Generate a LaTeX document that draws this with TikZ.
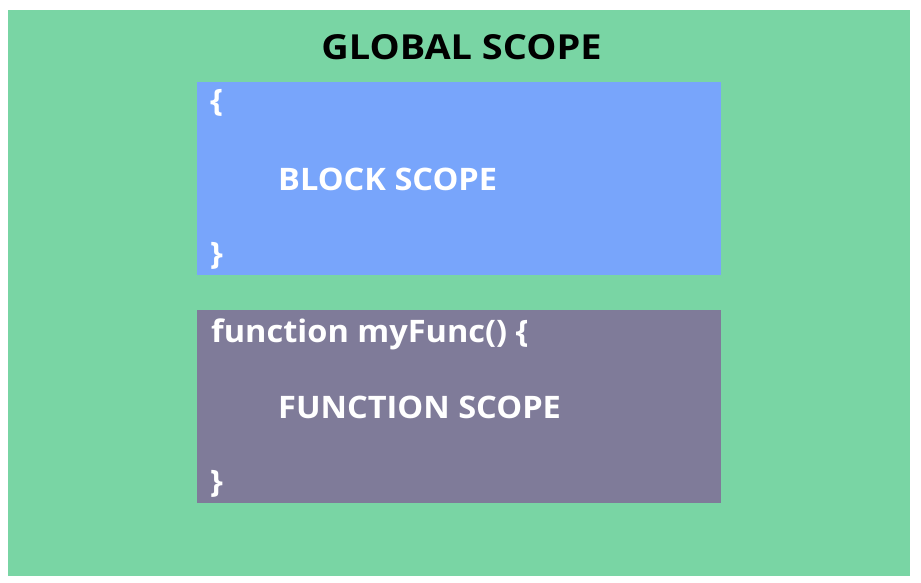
\documentclass[tikz,border=0pt]{standalone}
\usepackage{fontspec}
\setmainfont{Open Sans}
\newfontfamily\labelfont{Open Sans}[FakeStretch=1.05]
\newfontfamily\titlefont{Open Sans}[FakeStretch=1.1]
\definecolor{gscope}{HTML}{79D5A4}
\definecolor{bscope}{HTML}{78A5FB}
\definecolor{fscope}{HTML}{7F7B99}
\begin{document}
\begin{tikzpicture}[x=1pt,y=-1pt,
  lbl/.style={inner sep=0pt,anchor=base west,text=white,font=\labelfont\bfseries\fontsize{31}{36}\selectfont},
  title/.style={inner sep=0pt,anchor=base,text=black,font=\titlefont\bfseries\fontsize{34.5}{40}\selectfont}]
\useasboundingbox (0,0) rectangle (921,583);
\fill[white] (0,0) rectangle (921,583);
\fill[gscope] (8,10) rectangle (910,576);
\fill[bscope] (197,82) rectangle (721,275);
\fill[fscope] (197,310) rectangle (721,503);
\node[title] (global) at (461.5,60) {GLOBAL SCOPE};
\node[lbl] (bopen) at (210,112) {\{};
\node[lbl] (block) at (278,190) {BLOCK SCOPE};
\node[lbl] (bclose) at (210,264) {\}};
\node[lbl] (fopen) at (211,342) {function myFunc() \{};
\node[lbl] (func) at (278,418) {FUNCTION SCOPE};
\node[lbl] (fclose) at (210,492) {\}};
\end{tikzpicture}
\end{document}
